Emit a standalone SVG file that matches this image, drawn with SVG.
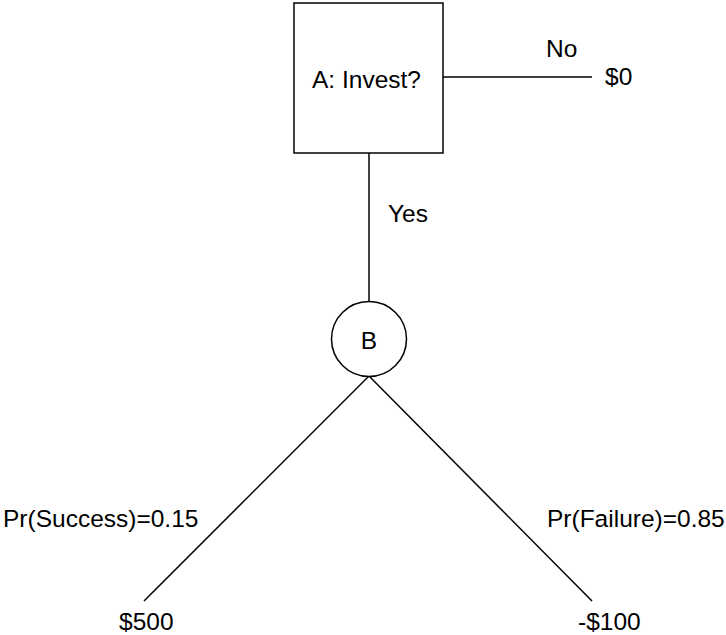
<svg xmlns="http://www.w3.org/2000/svg" width="726" height="635" viewBox="0 0 726 635">
<style>
.s{fill:none;stroke:#000;stroke-width:1.5}
.n{fill:#fff;stroke:#000;stroke-width:1.5}
text{font-family:"Liberation Sans",Arial,sans-serif;font-size:24.5px;fill:#000}
</style>
<rect width="726" height="635" fill="#fff"/>
<g id="connectors">
<line class="s" x1="443" y1="77" x2="592" y2="77"/>
<line class="s" x1="369" y1="153" x2="369" y2="302"/>
<line class="s" x1="369" y1="376" x2="144" y2="601"/>
<line class="s" x1="369" y1="376" x2="592" y2="601"/>
<text x="546" y="57">No</text>
<text x="388" y="222">Yes</text>
<text x="3" y="527">Pr(Success)=0.15</text>
<text x="547" y="527">Pr(Failure)=0.85</text>
</g>
<g id="A">
<rect class="n" x="294" y="3" width="149" height="150"/>
<text x="312" y="88">A: Invest?</text>
</g>
<g id="B">
<circle class="n" cx="369" cy="339" r="37.5"/>
<text x="369" y="349" text-anchor="middle">B</text>
</g>
<g id="outcome0">
<text x="605" y="85">$0</text>
</g>
<g id="outcome500">
<text x="119" y="630">$500</text>
</g>
<g id="outcome-100">
<text x="578" y="630">-$100</text>
</g>
</svg>
